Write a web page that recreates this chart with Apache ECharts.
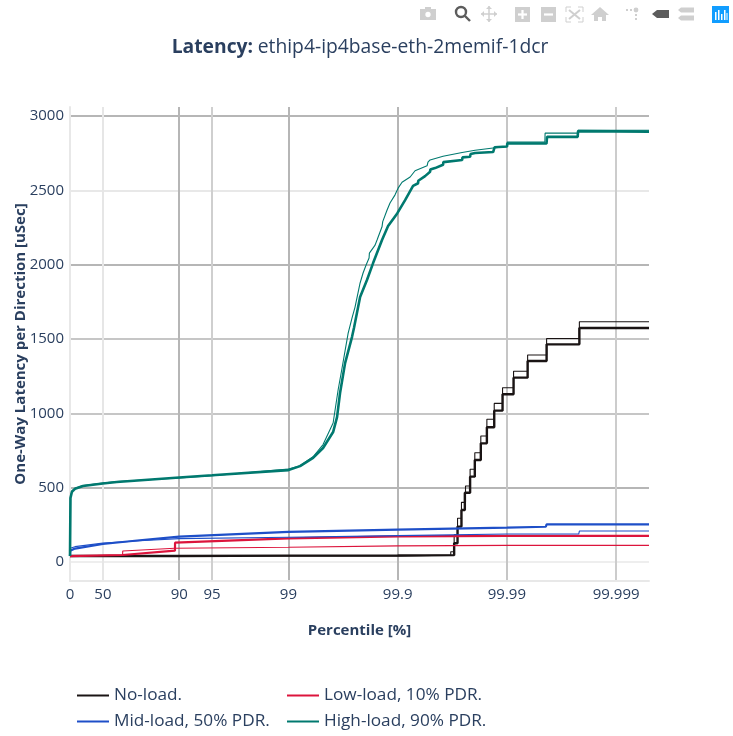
<!DOCTYPE html>
<html><head><meta charset="utf-8">
<style>html,body{margin:0;padding:0;background:#fff}#c{width:733px;height:736px}</style>
<script src="https://cdn.jsdelivr.net/npm/echarts@6/dist/echarts.min.js"></script>
</head><body><div id="c"></div>
<script>
const tickPct = [0,50,90,95,99,99.9,99.99,99.999];
const tickLbl = ['0','50','90','95','99','99.9','99.99','99.999'];
const yTicks = [0,500,1000,1500,2000,2500,3000];
const names = ['No-load.','Low-load, 10% PDR.','Mid-load, 50% PDR.','High-load, 90% PDR.'];

const noThickP = [0,90,99,99.9,99.9696,99.97169,99.97394,99.97573,99.97828,99.98033,99.98267,99.98475,99.98694,99.98904,99.99131,99.99354,99.99567,99.99783,99.9995];
const noThickV = [40,43,44,46,126,238,350,466,574,686,798,906,1018,1128,1240,1352,1464,1574,1574];
const noThinP = [0,99.9,99.96734,99.9696,99.97169,99.97394,99.97607,99.97828,99.98033,99.98267,99.98475,99.98694,99.98904,99.99131,99.99354,99.99567,99.99783,99.9995];
const noThinV = [40,46,69,182,294,401,511,624,735,848,960,1067,1172,1283,1392,1504,1616,1616];

const lowThickP = [0,67,89.06,89.08,99,99.9,99.99,99.9995];
const lowThickV = [40,47,76,130,159,172,176,176];
const lowThinP = [0,67,67.1,89,99,99.9,99.99,99.9995];
const lowThinV = [40,47,74,92,99,108,112,112];

const midThickP = [0,0.5,10,50,77,90,99,99.9,99.99,99.9901,99.9956,99.99567,99.9995];
const midThickV = [40,76,90,121,146,170,202,218,231,237,237,253,253];
const midThinP = [0,0.5,10,50,77,90,99,99.9,99.99,99.9978,99.99783,99.9995];
const midThinV = [40,92,103,127,143,157,166,177,188,188,208,208];

const highThickP = [0,1,4,10,24,50,62.7,90,95,99,99.217,99.405,99.518,99.61,99.641,99.663,99.697,99.738,99.7487,99.7792,99.809,99.8321,99.8609,99.8776,99.899,99.9145,99.9277,99.935,99.9352,99.9439,99.9495,99.9497,99.95452,99.9616,99.9618,99.9743,99.9745,99.97828,99.9785,99.98046,99.98663,99.98703,99.99005,99.99007,99.99566,99.99571,99.99775,99.99777,99.9995];
const highThickV = [40,430,473,492,511,528,538,568,583,618,645,700,767,874,975,1137,1338,1513,1574,1783,1897,2011,2166,2260,2345,2435,2530,2548,2565,2596,2625,2640,2650,2672,2690,2704,2722,2726,2745,2751,2758,2790,2795,2815,2815,2860,2860,2899,2895];
const highThinP = [0,1,4,10,24,50,62.7,90,95,99,99.217,99.405,99.518,99.61,99.649,99.677,99.716,99.738,99.7543,99.7792,99.7926,99.8055,99.8172,99.8185,99.839,99.8455,99.8609,99.863,99.875,99.8825,99.8943,99.9009,99.9088,99.9231,99.9259,99.9307,99.9462,99.9472,99.9495,99.9616,99.9743,99.98046,99.98663,99.98703,99.99005,99.99007,99.99551,99.99553,99.99775,99.99777,99.9995];
const highThinV = [40,440,478,496,514,531,541,565,580,625,648,708,790,935,1157,1305,1540,1640,1715,1877,1944,1998,2045,2078,2132,2166,2255,2290,2368,2415,2470,2515,2555,2590,2590,2632,2665,2690,2705,2730,2755,2770,2785,2790,2795,2825,2825,2885,2885,2905,2905];

const black='#1a1414', red='#dc143c', blue='#1e4fc8', teal='#00796f', ink='#2a3f5f';
const toX = p => 100/(100-p);
const pts = (P,V) => P.map((p,i)=>[toX(p),V[i]]);
const line = (name,P,V,color,width,step) => ({type:'line',name,data:pts(P,V),showSymbol:false,symbol:'none',step:step?'end':false,
  lineStyle:{color,width},itemStyle:{color},silent:true,animation:false,clip:true,z:3});

const font='"Open Sans"';
const gray='#cfcfcf', dark='#5c5c5c';
const ic=(o)=>Object.assign({silent:true,z:20},o);
const P=(pts,fill)=>ic({type:'polygon',shape:{points:pts},style:{fill}});
const R=(x,y,w,h,fill)=>ic({type:'rect',shape:{x,y,width:w,height:h},style:{fill}});
const L=(x1,y1,x2,y2,stroke,w)=>ic({type:'line',shape:{x1,y1,x2,y2},style:{stroke,lineWidth:w||1.5}});
const C=(cx,cy,r,fill,stroke,w)=>ic({type:'circle',shape:{cx,cy,r},style:{fill,stroke,lineWidth:w||0}});
const modebar=[
 R(420,9,16,11,gray),R(425,7,6,3,gray),C(428,14.5,3.4,'#fff',gray,1.5),
 C(461,12,5,'none',dark,2.4),L(465,16,470,21,dark,2.4),
 L(481,14,497,14,gray,1.5),L(489,6,489,22,gray,1.5),P([[481,14],[484,11],[484,17]],gray),P([[497,14],[494,11],[494,17]],gray),P([[489,6],[486,9],[492,9]],gray),P([[489,22],[486,19],[492,19]],gray),
 R(515,7,15,15,gray),L(518,14.5,527,14.5,'#fff',2.2),L(522.5,10,522.5,19,'#fff',2.2),
 R(541,7,15,15,gray),L(544,14.5,553,14.5,'#fff',2.2),
 L(566,7,571,7,gray,1),L(566,7,566,12,gray,1),L(578,7,583,7,gray,1),L(583,7,583,12,gray,1),L(566,22,571,22,gray,1),L(566,17,566,22,gray,1),L(578,22,583,22,gray,1),L(583,17,583,22,gray,1),L(569,10,580,19,gray,2),L(580,10,569,19,gray,2),
 P([[600,7],[609,15],[606,15],[606,21],[602,21],[602,17],[598,17],[598,21],[594,21],[594,15],[591,15]],gray),
 R(626,9,2,2,gray),R(630,9,2,2,gray),C(636,10,2.4,gray),R(635,14,2,2,gray),R(635,18,2,2,gray),
 P([[652,14],[657,10],[669,10],[669,18],[657,18]],dark),
 P([[678,10],[681,7.5],[694,7.5],[694,12.5],[681,12.5]],gray),P([[678,18],[681,15.5],[694,15.5],[694,20.5],[681,20.5]],gray),
 R(712,6,17,17,'#119dff'),R(715,12,1.5,8,'#fff'),R(718,10,1.5,10,'#fff'),R(721,14,1.5,6,'#fff'),R(724,10,1.5,10,'#fff'),R(726.5,13,1,7,'#fff')
];

const legendCommon={top:684,orient:'vertical',padding:0,itemWidth:32,itemHeight:2,itemGap:3,selectedMode:false,icon:'path://M0 0H32V2H0Z',textStyle:{fontFamily:font,fontSize:17.2,color:ink,lineHeight:23}};
const chart=echarts.init(document.getElementById('c'),null,{renderer:'canvas'});
chart.setOption({
 animation:false,backgroundColor:'#fff',
 textStyle:{fontFamily:font},
 title:{left:355,top:33,textAlign:'center',text:'{b|Latency:} {r|ethip4-ip4base-eth-2memif-1dcr}',
  textStyle:{rich:{b:{fontFamily:font,fontWeight:'bold',fontSize:19.3,color:ink},r:{fontFamily:font,fontWeight:'normal',fontSize:19.3,color:ink}}}},
 grid:{left:70,right:84,top:107,bottom:155,containLabel:false,outerBoundsMode:'none'},
 legend:[
  Object.assign({data:[names[0],names[2]],left:77},legendCommon),
  Object.assign({data:[names[1],names[3]],left:287},legendCommon)
 ],
 xAxis:{type:'log',logBase:10,min:1,max:200000,name:'Percentile [%]',nameLocation:'middle',nameGap:42,nameMoveOverlap:false,
  nameTextStyle:{fontFamily:font,fontWeight:'bold',fontSize:15,color:ink},
  axisLine:{show:true,onZero:false,lineStyle:{color:'#e8e8e8',width:2}},
  axisTick:{show:false,customValues:tickPct.map(toX)},
  minorTick:{show:false},minorSplitLine:{show:false},
  axisLabel:{customValues:tickPct.map(toX),margin:6,fontFamily:font,fontSize:15,color:ink,hideOverlap:false,showMinLabel:true,showMaxLabel:true,
    formatter:v=>{let i=0,b=1e9;tickPct.forEach((p,k)=>{const d=Math.abs(Math.log(toX(p))-Math.log(v));if(d<b){b=d;i=k}});return tickLbl[i];}},
  splitLine:{show:true,lineStyle:{width:2,color:['#e6e6e6','#e6e6e6','#b6b6b6','#cfcfcf','#b6b6b6','#b6b6b6','#c6c6c6','#cccccc']}}},
 yAxis:{type:'value',min:-128,max:3061,name:'One-Way Latency per Direction [uSec]',nameLocation:'middle',nameGap:42,nameMoveOverlap:false,
  nameTextStyle:{fontFamily:font,fontWeight:'bold',fontSize:15,color:ink},
  axisLine:{show:true,lineStyle:{color:'#e8e8e8',width:2}},
  axisTick:{show:false,customValues:yTicks},
  axisLabel:{customValues:yTicks,margin:6,fontFamily:font,fontSize:15,color:ink,showMinLabel:true,showMaxLabel:true,formatter:v=>String(v)},
  splitLine:{show:true,lineStyle:{width:2,color:['#eeeeee','#b6b6b6','#c6c6c6','#c6c6c6','#b6b6b6','#e8e8e8','#b6b6b6']}}},
 series:[
  line(names[0],noThickP,noThickV,black,2.4,true),
  line(names[0],noThinP,noThinV,black,1.1,true),
  line(names[1],lowThickP,lowThickV,red,2.2,false),
  line(names[1],lowThinP,lowThinV,red,1.1,false),
  line(names[2],midThickP,midThickV,blue,2.2,false),
  line(names[2],midThinP,midThinV,blue,1.1,false),
  line(names[3],highThickP,highThickV,teal,2.6,false),
  line(names[3],highThinP,highThinV,teal,1.1,false)
 ],
 graphic:modebar
});
</script></body></html>
